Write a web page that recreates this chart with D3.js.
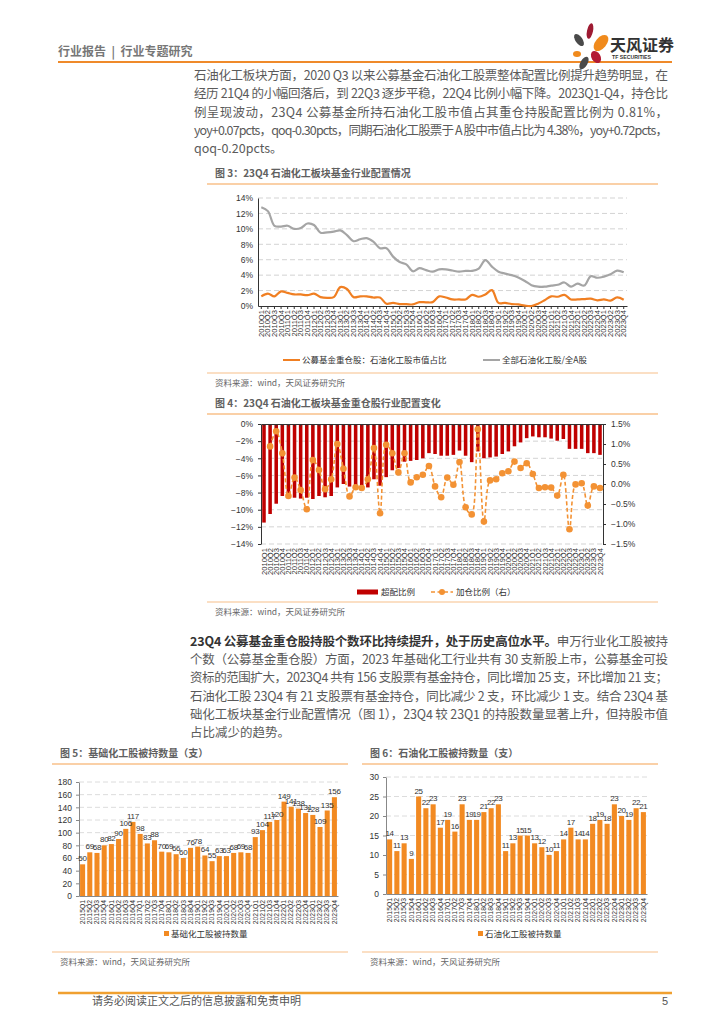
<!DOCTYPE html>
<html>
<head>
<meta charset="utf-8">
<script src="https://cdn.jsdelivr.net/npm/d3@7"></script>
<style>
body { margin: 0; background: #fff; }
svg { display: block; }
</style>
</head>
<body>
<svg id="svg" width="724" height="1024"></svg>
<script>
// quarter tick labels, e.g. 2010Q1 ... 2023Q4
function quarterLabels(y0, y1) {
    let out = [];
    for (let y = y0; y <= y1; y++) {
        for (let q = 1; q <= 4; q++) out.push(y + 'Q' + q);
    }
    return out;
}

const quarters10 = quarterLabels(2010, 2023);
const quarters15 = quarterLabels(2015, 2023);

// fig 3 (%)
const fundShare = [1.25,1.6,1.25,1.9,1.7,1.5,1.5,1.4,1.6,1.15,1.05,1.15,2.45,2.2,1.15,1.25,1.25,1.1,1.1,0.3,
    0.4,0.25,0.25,0.2,0.5,0.48,0.5,1.25,1.1,0.85,0.85,0.85,1.45,1.2,1.5,2.05,0.4,0.4,0.25,0.2,
    0.05,0.0,0.3,0.75,1.25,1.2,1.45,0.85,0.85,0.9,0.95,0.74,0.85,0.7,1.11,0.81];
const marketShare = [12.8,12.3,10.4,10.3,10.4,10.0,10.1,10.7,10.5,9.5,9.55,9.65,9.8,9.2,8.4,8.65,8.8,8.35,7.5,7.5,
    6.4,5.7,5.4,4.5,4.9,4.65,4.45,4.75,4.75,4.6,4.45,4.55,4.55,4.85,5.95,5.1,4.45,4.2,4.0,3.7,
    3.25,2.7,2.5,2.5,2.65,2.75,3.05,2.5,2.9,2.65,3.85,3.66,3.8,4.1,4.58,4.38];

// fig 4 (%)
const overweight = [-11.5,-10.5,-9.3,-8.4,-8.5,-8.6,-8.7,-8.6,-8.75,-8.4,-8.55,-8.4,-7.4,-7.0,-7.3,-7.3,-7.3,-7.4,-6.45,-7.2,
    -6.2,-5.4,-5.15,-4.4,-4.3,-4.2,-4.0,-3.4,-3.5,-3.7,-3.7,-3.6,-3.1,-3.7,-4.45,-3.2,-4.0,-3.9,-3.8,-3.5,
    -3.2,-2.6,-2.15,-1.65,-1.45,-1.55,-1.55,-1.7,-1.95,-1.75,-2.9,-2.9,-2.9,-3.4,-3.4,-3.6];
const addRatio = [null,0.94,1.32,0.77,-0.30,0.16,-0.15,-0.63,0.6,0.35,-0.13,0.12,1.0,0.38,-0.31,-0.08,-0.1,0.12,0.9,-0.73,
    0.98,0.77,0.29,0.77,0.04,0.17,0.23,0.45,-0.06,-0.33,0.16,-0.02,0.55,-0.58,-0.76,1.37,-0.94,0.09,0.12,0.27,
    0.32,0.56,0.4,0.52,0.25,-0.1,-0.08,-0.09,-0.29,0.23,-1.13,-0.01,0.02,-0.54,-0.06,-0.1];

// fig 5 / fig 6 (支)
const basicChemCount = [50,69,68,80,82,90,106,117,98,83,88,70,69,66,60,76,78,64,55,63,63,68,69,68,
    93,104,117,120,149,141,138,131,128,109,135,156];
const petroChemCount = [14,11,13,9,25,22,23,17,19,16,23,19,19,21,22,23,11,13,15,15,13,12,10,11,
    14,17,14,14,18,19,18,23,20,19,22,21];

const CJK = '"Noto Sans CJK SC","Noto Sans",sans-serif';
const NUM = '"Liberation Sans",Arial,sans-serif';
const ORANGE = '#f28a22';
const svg = d3.select('#svg');

svg.append('rect').attr('width', 724).attr('height', 1024).attr('fill', '#fff');

// ---------- header
svg.append('text').attr('x', 58).attr('y', 56).attr('font-family', CJK).attr('font-size', 12)
    .attr('font-weight', 'bold').attr('fill', '#777').attr('xml:space', 'preserve').text('行业报告  |  行业专题研究');
svg.append('line').attr('x1', 58).attr('x2', 672).attr('y1', 62).attr('y2', 62)
    .attr('stroke', '#ef8a2a').attr('stroke-width', 2);

// logo
const logo = svg.append('g');
[
    [579, 40, 3.5, 7, -35, '#4a4a4a'],
    [590, 31, 3, 8, 12, '#9e1b32'],
    [601, 43, 5.5, 9.5, 40, '#f08a1c'],
    [577, 54, 4, 3, 0, '#f08a1c'],
    [596, 57, 4.5, 6.5, -30, '#b31b34'],
    [584, 63, 3.5, 7, 30, '#4a4a4a']
].forEach(p => {
    logo.append('ellipse').attr('cx', p[0]).attr('cy', p[1]).attr('rx', p[2]).attr('ry', p[3])
        .attr('transform', `rotate(${p[4]},${p[0]},${p[1]})`).attr('fill', p[5]);
});
logo.append('text').attr('x', 610).attr('y', 51).attr('font-family', CJK).attr('font-size', 16)
    .attr('font-weight', 'bold').attr('fill', '#333').text('天风证券');
logo.append('text').attr('x', 612).attr('y', 59).attr('font-family', NUM).attr('font-size', 5.2)
    .attr('font-weight', 'bold').attr('fill', '#333').text('TF SECURITIES');

// ---------- paragraphs
function paragraph(x, width, y0, lh, lines) {
    lines.forEach((ln, i) => {
        let t = svg.append('text').attr('x', x).attr('y', y0 + i * lh)
            .attr('font-family', CJK).attr('font-size', 12.5).attr('fill', '#5a5a5a');
        if (ln.just) t.attr('textLength', width).attr('lengthAdjust', 'spacing');
        ln.parts.forEach(p => {
            t.append('tspan').attr('font-weight', p.bold ? 'bold' : 'normal')
                .attr('fill', p.bold ? '#333' : '#5a5a5a').text(p.s);
        });
    });
}

paragraph(194, 474, 80, 18.3, [
    {just: true, parts: [{s: '石油化工板块方面，2020 Q3 以来公募基金石油化工股票整体配置比例提升趋势明显，在'}]},
    {just: true, parts: [{s: '经历 21Q4 的小幅回落后，到 22Q3 逐步平稳，22Q4 比例小幅下降。2023Q1-Q4，持仓比'}]},
    {just: true, parts: [{s: '例呈现波动，23Q4  公募基金所持石油化工股市值占其重仓持股配置比例为  0.81%，'}]},
    {just: true, parts: [{s: 'yoy+0.07pcts，qoq-0.30pcts，同期石油化工股票于 A 股中市值占比为 4.38%，yoy+0.72pcts，'}]},
    {just: false, parts: [{s: 'qoq-0.20pcts。'}]}
]);

paragraph(190, 478, 646, 18.2, [
    {just: true, parts: [{s: '23Q4 公募基金重仓股持股个数环比持续提升，处于历史高位水平。', bold: true}, {s: '申万行业化工股被持'}]},
    {just: true, parts: [{s: '个数（公募基金重仓股）方面，2023 年基础化工行业共有 30 支新股上市，公募基金可投'}]},
    {just: true, parts: [{s: '资标的范围扩大，2023Q4 共有 156 支股票有基金持仓，同比增加 25 支，环比增加 21 支；'}]},
    {just: true, parts: [{s: '石油化工股 23Q4 有 21 支股票有基金持仓，同比减少 2 支，环比减少 1 支。结合 23Q4 基'}]},
    {just: true, parts: [{s: '础化工板块基金行业配置情况（图 1），23Q4 较 23Q1 的持股数量显著上升，但持股市值'}]},
    {just: false, parts: [{s: '占比减少的趋势。'}]}
]);

// ---------- figure frame helpers
function figTitle(x, y, x1, x2, txt) {
    svg.append('text').attr('x', x).attr('y', y).attr('font-family', CJK).attr('font-size', 10)
        .attr('font-weight', 'bold').attr('fill', '#606060').text(txt);
    svg.append('line').attr('x1', x1).attr('x2', x2).attr('y1', y + 7).attr('y2', y + 7)
        .attr('stroke', '#f8c08a').attr('stroke-width', 1.5);
}
function figSource(x, y, x1, x2) {
    svg.append('line').attr('x1', x1).attr('x2', x2).attr('y1', y).attr('y2', y)
        .attr('stroke', '#f8c08a').attr('stroke-width', 1.2);
    svg.append('text').attr('x', x).attr('y', y + 13).attr('font-family', CJK).attr('font-size', 8.5)
        .attr('fill', '#666').text('资料来源：wind，天风证券研究所');
}
function styleAxis(g, size) {
    g.attr('font-family', NUM).attr('font-size', size);
    g.selectAll('text').attr('fill', '#333');
    g.selectAll('line,path').attr('stroke', '#333');
}
function rotateLabels(g) {
    g.selectAll('text').attr('transform', 'rotate(-90)').attr('x', -4).attr('y', 0)
        .attr('dy', '0.33em').style('text-anchor', 'end');
}

// ---------- figure 3
figTitle(215, 177, 207, 658, '图 3：23Q4 石油化工板块基金行业配置情况');
(function () {
    const L = 258, R = 627, T = 198, B = 306;
    const x = d3.scaleBand().domain(quarters10).range([L, R]);
    const y = d3.scaleLinear().domain([0, 14]).range([B, T]);
    const cx = d => x(d) + x.bandwidth() / 2;

    svg.append('g').selectAll('line').data(d3.range(2, 15, 2)).join('line')
        .attr('x1', L).attr('x2', R).attr('y1', d => y(d)).attr('y2', d => y(d))
        .attr('stroke', '#d3d3d3').attr('stroke-dasharray', '5,3');

    const ya = svg.append('g').attr('transform', `translate(${L},0)`)
        .call(d3.axisLeft(y).tickValues(d3.range(0, 15, 2)).tickFormat(d => d + '%').tickSize(0).tickPadding(5));
    styleAxis(ya, 8.5);

    const xa = svg.append('g').attr('transform', `translate(0,${B})`)
        .call(d3.axisBottom(x).tickSize(3).tickSizeOuter(0));
    styleAxis(xa, 7.6);
    rotateLabels(xa);

    const line = d3.line().x((d, i) => cx(quarters10[i])).y(d => y(d)).curve(d3.curveCatmullRom);
    svg.append('path').datum(marketShare).attr('d', line).attr('fill', 'none')
        .attr('stroke', '#a5a5a5').attr('stroke-width', 2.2);
    svg.append('path').datum(fundShare).attr('d', line).attr('fill', 'none')
        .attr('stroke', '#f07f22').attr('stroke-width', 2.2);

    // legend
    const lg = svg.append('g').attr('font-family', CJK).attr('font-size', 8.5).attr('fill', '#333');
    lg.append('line').attr('x1', 283).attr('x2', 300).attr('y1', 360).attr('y2', 360)
        .attr('stroke', '#f07f22').attr('stroke-width', 2);
    lg.append('text').attr('x', 302).attr('y', 363).text('公募基金重仓股：石油化工股市值占比');
    lg.append('line').attr('x1', 483).attr('x2', 500).attr('y1', 360).attr('y2', 360)
        .attr('stroke', '#a5a5a5').attr('stroke-width', 2);
    lg.append('text').attr('x', 502).attr('y', 363).text('全部石油化工股/全A股');
})();
figSource(215, 373, 207, 658);

// ---------- figure 4
figTitle(215, 407, 207, 658, '图 4：23Q4 石油化工板块基金重仓股行业配置变化');
(function () {
    const L = 261, R = 603, T = 424, B = 544;
    const x = d3.scaleBand().domain(quarters10).range([L, R]).paddingInner(0.42).paddingOuter(0.2);
    const cx = d => x(d) + x.bandwidth() / 2;
    const y = d3.scaleLinear().domain([-14, 0]).range([B, T]);
    const y2 = d3.scaleLinear().domain([-1.5, 1.5]).range([B, T]);
    const minus = s => s.replace('-', '\u2212');

    svg.append('g').selectAll('line').data(d3.range(-14, 0, 2)).join('line')
        .attr('x1', L).attr('x2', R).attr('y1', d => y(d)).attr('y2', d => y(d))
        .attr('stroke', '#d3d3d3').attr('stroke-dasharray', '5,3');

    const ya = svg.append('g').attr('transform', `translate(${L},0)`)
        .call(d3.axisLeft(y).tickValues(d3.range(-14, 1, 2)).tickFormat(d => minus(d + '%')).tickSize(3).tickSizeOuter(0).tickPadding(5));
    styleAxis(ya, 8.5);
    const yb = svg.append('g').attr('transform', `translate(${R},0)`)
        .call(d3.axisRight(y2).tickValues(d3.range(-1.5, 1.51, 0.5)).tickFormat(d => minus(d.toFixed(1) + '%')).tickSize(3).tickSizeOuter(0).tickPadding(5));
    styleAxis(yb, 8.5);

    svg.append('g').selectAll('rect').data(overweight).join('rect')
        .attr('x', (d, i) => x(quarters10[i])).attr('width', x.bandwidth())
        .attr('y', y(0)).attr('height', d => y(d) - y(0)).attr('fill', '#c00000');

    // zero axis with inward ticks
    const xa = svg.append('g').attr('transform', `translate(0,${y(0)})`)
        .call(d3.axisBottom(x).tickSize(2.5).tickSizeOuter(0).tickFormat(''));
    styleAxis(xa, 7.6);

    // category labels under the plot
    const xl = svg.append('g').attr('transform', `translate(0,${B})`)
        .call(d3.axisBottom(x).tickSize(0).tickSizeOuter(0));
    xl.select('.domain').remove();
    styleAxis(xl, 7.6);
    rotateLabels(xl);

    const pts = addRatio.map((d, i) => ({q: quarters10[i], v: d})).filter(p => p.v !== null);
    const line = d3.line().x(p => cx(p.q)).y(p => y2(p.v)).curve(d3.curveCatmullRom);
    svg.append('path').datum(pts).attr('d', line).attr('fill', 'none')
        .attr('stroke', '#f39234').attr('stroke-width', 1.6).attr('stroke-dasharray', '4,2.5');
    svg.append('g').selectAll('circle').data(pts).join('circle')
        .attr('cx', p => cx(p.q)).attr('cy', p => y2(p.v)).attr('r', 3.3).attr('fill', '#f39234');

    const lg = svg.append('g').attr('font-family', CJK).attr('font-size', 8.5).attr('fill', '#333');
    lg.append('rect').attr('x', 357).attr('y', 589.5).attr('width', 21).attr('height', 5).attr('fill', '#c00000');
    lg.append('text').attr('x', 381).attr('y', 595).text('超配比例');
    lg.append('line').attr('x1', 431).attr('x2', 453).attr('y1', 592).attr('y2', 592)
        .attr('stroke', '#f39234').attr('stroke-width', 1.6).attr('stroke-dasharray', '4,2.5');
    lg.append('circle').attr('cx', 442).attr('cy', 592).attr('r', 3).attr('fill', '#f39234');
    lg.append('text').attr('x', 456).attr('y', 595).text('加仓比例（右）');
})();
figSource(215, 602, 207, 658);

// ---------- figure 5 / 6 bar charts
function barChart(opt) {
    const x = d3.scaleBand().domain(quarters15).range([opt.L, opt.R]).paddingInner(0.3).paddingOuter(0.15);
    const y = d3.scaleLinear().domain([0, opt.max]).range([opt.B, opt.T]);
    const ticks = d3.range(0, opt.max + 0.1, opt.step);

    svg.append('g').selectAll('line').data(ticks.slice(1)).join('line')
        .attr('x1', opt.L).attr('x2', opt.R).attr('y1', d => y(d)).attr('y2', d => y(d))
        .attr('stroke', '#dcdcdc').attr('stroke-dasharray', '5,3');

    const ya = svg.append('g').attr('transform', `translate(${opt.L},0)`)
        .call(d3.axisLeft(y).tickValues(ticks).tickSize(3).tickSizeOuter(0).tickPadding(4));
    styleAxis(ya, 8.5);
    ya.selectAll('line,path').attr('stroke', '#888');

    svg.append('g').selectAll('rect').data(opt.values).join('rect')
        .attr('x', (d, i) => x(quarters15[i])).attr('width', x.bandwidth())
        .attr('y', d => y(d)).attr('height', d => opt.B - y(d)).attr('fill', ORANGE);

    svg.append('g').selectAll('text').data(opt.values).join('text')
        .attr('x', (d, i) => x(quarters15[i]) + x.bandwidth() / 2).attr('y', d => y(d) - 3)
        .attr('text-anchor', 'middle').attr('font-family', NUM).attr('font-size', 8)
        .attr('letter-spacing', -0.2).attr('fill', '#333').text(d => d);

    const xa = svg.append('g').attr('transform', `translate(0,${opt.B})`)
        .call(d3.axisBottom(x).tickSize(0).tickSizeOuter(0));
    styleAxis(xa, 6.8);
    xa.select('.domain').attr('stroke', '#888');
    rotateLabels(xa);

    svg.append('rect').attr('x', opt.legX).attr('y', 931).attr('width', 5).attr('height', 5).attr('fill', ORANGE);
    svg.append('text').attr('x', opt.legX + 7).attr('y', 937).attr('font-family', CJK).attr('font-size', 8.5)
        .attr('fill', '#333').text(opt.legend);
}

figTitle(60, 757, 52, 348, '图 5：基础化工股被持数量（支）');
barChart({L: 79, R: 338, T: 782, B: 896, max: 180, step: 20, values: basicChemCount,
    legX: 164, legend: '基础化工股被持数量'});
figSource(60, 952, 52, 348);

figTitle(370, 757, 362, 658, '图 6：石油化工股被持数量（支）');
barChart({L: 386, R: 647, T: 777, B: 894, max: 30, step: 5, values: petroChemCount,
    legX: 478, legend: '石油化工股被持数量'});
figSource(370, 952, 362, 658);

// ---------- footer
svg.append('line').attr('x1', 58).attr('x2', 672).attr('y1', 993).attr('y2', 993)
    .attr('stroke', '#f0a030').attr('stroke-width', 2.5);
svg.append('text').attr('x', 92).attr('y', 1005).attr('font-family', CJK).attr('font-size', 11)
    .attr('fill', '#555').text('请务必阅读正文之后的信息披露和免责申明');
svg.append('text').attr('x', 668).attr('y', 1005).attr('text-anchor', 'end').attr('font-family', NUM)
    .attr('font-size', 11).attr('fill', '#555').text('5');
</script>
</body>
</html>
